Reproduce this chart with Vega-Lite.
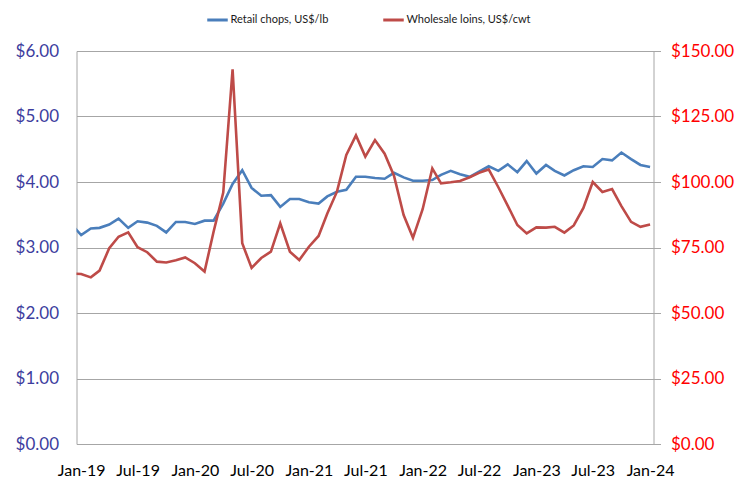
{
  "$schema": "https://vega.github.io/schema/vega-lite/v6.json",
  "width": 577,
  "height": 393,
  "autosize": {"type": "none"},
  "padding": {"left": 76.5, "top": 51, "right": 98.5, "bottom": 36},
  "background": "white",
  "config": {
    "view": {"stroke": null},
    "font": "Lato"
  },
  "data": {
    "values": [
      {"date": "2018-12-01", "retail": 3.35, "wholesale": 65.0},
      {"date": "2019-01-01", "retail": 3.19, "wholesale": 64.9},
      {"date": "2019-02-01", "retail": 3.29, "wholesale": 63.6},
      {"date": "2019-03-01", "retail": 3.30, "wholesale": 66.2},
      {"date": "2019-04-01", "retail": 3.35, "wholesale": 74.7},
      {"date": "2019-05-01", "retail": 3.44, "wholesale": 79.1},
      {"date": "2019-06-01", "retail": 3.30, "wholesale": 80.8},
      {"date": "2019-07-01", "retail": 3.40, "wholesale": 75.1},
      {"date": "2019-08-01", "retail": 3.38, "wholesale": 73.2},
      {"date": "2019-09-01", "retail": 3.33, "wholesale": 69.6},
      {"date": "2019-10-01", "retail": 3.23, "wholesale": 69.3},
      {"date": "2019-11-01", "retail": 3.39, "wholesale": 70.1},
      {"date": "2019-12-01", "retail": 3.39, "wholesale": 71.2},
      {"date": "2020-01-01", "retail": 3.36, "wholesale": 69.0},
      {"date": "2020-02-01", "retail": 3.41, "wholesale": 65.8},
      {"date": "2020-03-01", "retail": 3.41, "wholesale": 81.0},
      {"date": "2020-04-01", "retail": 3.67, "wholesale": 96.0},
      {"date": "2020-05-01", "retail": 3.97, "wholesale": 143.0},
      {"date": "2020-06-01", "retail": 4.18, "wholesale": 76.6},
      {"date": "2020-07-01", "retail": 3.91, "wholesale": 67.2},
      {"date": "2020-08-01", "retail": 3.79, "wholesale": 71.0},
      {"date": "2020-09-01", "retail": 3.80, "wholesale": 73.4},
      {"date": "2020-10-01", "retail": 3.62, "wholesale": 84.2},
      {"date": "2020-11-01", "retail": 3.74, "wholesale": 73.4},
      {"date": "2020-12-01", "retail": 3.74, "wholesale": 70.2},
      {"date": "2021-01-01", "retail": 3.69, "wholesale": 75.3},
      {"date": "2021-02-01", "retail": 3.67, "wholesale": 79.4},
      {"date": "2021-03-01", "retail": 3.78, "wholesale": 88.0},
      {"date": "2021-04-01", "retail": 3.85, "wholesale": 96.3},
      {"date": "2021-05-01", "retail": 3.88, "wholesale": 110.3},
      {"date": "2021-06-01", "retail": 4.08, "wholesale": 117.8},
      {"date": "2021-07-01", "retail": 4.08, "wholesale": 109.7},
      {"date": "2021-08-01", "retail": 4.06, "wholesale": 116.0},
      {"date": "2021-09-01", "retail": 4.05, "wholesale": 110.8},
      {"date": "2021-10-01", "retail": 4.14, "wholesale": 102.4},
      {"date": "2021-11-01", "retail": 4.07, "wholesale": 87.4},
      {"date": "2021-12-01", "retail": 4.02, "wholesale": 78.7},
      {"date": "2022-01-01", "retail": 4.02, "wholesale": 89.6},
      {"date": "2022-02-01", "retail": 4.03, "wholesale": 105.2},
      {"date": "2022-03-01", "retail": 4.11, "wholesale": 99.5},
      {"date": "2022-04-01", "retail": 4.17, "wholesale": 99.9},
      {"date": "2022-05-01", "retail": 4.12, "wholesale": 100.4},
      {"date": "2022-06-01", "retail": 4.08, "wholesale": 101.8},
      {"date": "2022-07-01", "retail": 4.16, "wholesale": 103.5},
      {"date": "2022-08-01", "retail": 4.24, "wholesale": 104.8},
      {"date": "2022-09-01", "retail": 4.17, "wholesale": 98.0},
      {"date": "2022-10-01", "retail": 4.27, "wholesale": 91.0},
      {"date": "2022-11-01", "retail": 4.15, "wholesale": 83.6},
      {"date": "2022-12-01", "retail": 4.32, "wholesale": 80.4},
      {"date": "2023-01-01", "retail": 4.13, "wholesale": 82.7},
      {"date": "2023-02-01", "retail": 4.26, "wholesale": 82.6},
      {"date": "2023-03-01", "retail": 4.17, "wholesale": 82.9},
      {"date": "2023-04-01", "retail": 4.10, "wholesale": 80.7},
      {"date": "2023-05-01", "retail": 4.18, "wholesale": 83.4},
      {"date": "2023-06-01", "retail": 4.24, "wholesale": 90.1},
      {"date": "2023-07-01", "retail": 4.23, "wholesale": 100.0},
      {"date": "2023-08-01", "retail": 4.35, "wholesale": 96.2},
      {"date": "2023-09-01", "retail": 4.33, "wholesale": 97.3},
      {"date": "2023-10-01", "retail": 4.45, "wholesale": 90.8},
      {"date": "2023-11-01", "retail": 4.35, "wholesale": 84.8},
      {"date": "2023-12-01", "retail": 4.26, "wholesale": 82.9},
      {"date": "2024-01-01", "retail": 4.23, "wholesale": 83.8}
    ]
  },
  "encoding": {
    "x": {
      "field": "date",
      "type": "temporal",
      "scale": {
        "type": "utc",
        "domain": [
          {"year": 2018, "month": 12, "date": 17, "utc": true},
          {"year": 2024, "month": 1, "date": 12, "utc": true}
        ]
      },
      "axis": {
        "title": null,
        "grid": false,
        "ticks": false,
        "tickCount": {"interval": "month", "step": 6},
        "labelExpr": "utcFormat(datum.value, '%b-%y')",
        "labelFont": "Lato",
        "labelFontSize": 16,
        "labelColor": "#000000",
        "labelPadding": 18,
        "labelFlush": false,
        "labelOverlap": false,
        "domainColor": "#a6a6a6",
        "domainWidth": 1
      }
    }
  },
  "layer": [
    {
      "mark": {"type": "line", "strokeWidth": 2.6, "clip": true, "interpolate": "linear"},
      "encoding": {
        "y": {
          "field": "retail",
          "type": "quantitative",
          "scale": {"domain": [0, 6], "nice": false, "zero": true},
          "axis": {
            "title": null,
            "orient": "left",
            "values": [0, 1, 2, 3, 4, 5, 6],
            "format": "$.2f",
            "labelFont": "Lato",
            "labelFontSize": 17,
            "labelColor": "#3d3d9e",
            "labelPadding": 18,
            "ticks": false,
            "grid": true,
            "gridColor": "#a6a6a6",
            "gridWidth": 1,
            "domainColor": "#a6a6a6",
            "domainWidth": 1
          }
        },
        "color": {
          "datum": "Retail chops, US$/lb",
          "type": "nominal",
          "scale": {
            "domain": ["Retail chops, US$/lb", "Wholesale loins, US$/cwt"],
            "range": ["#4a7ebb", "#be4b48"]
          },
          "legend": {
            "title": null,
            "orient": "none",
            "direction": "horizontal",
            "legendX": 129,
            "legendY": -43,
            "symbolType": "stroke",
            "symbolSize": 420,
            "symbolStrokeWidth": 3,
            "labelFont": "Lato",
            "labelFontSize": 11,
            "labelColor": "#1a1a1a",
            "labelOffset": 1,
            "columnPadding": 48
          }
        }
      }
    },
    {
      "mark": {"type": "line", "strokeWidth": 2.6, "clip": true, "interpolate": "linear"},
      "encoding": {
        "y": {
          "field": "wholesale",
          "type": "quantitative",
          "scale": {"domain": [0, 150], "nice": false, "zero": true},
          "axis": {
            "title": null,
            "orient": "right",
            "values": [0, 25, 50, 75, 100, 125, 150],
            "format": "$.2f",
            "labelFont": "Lato",
            "labelFontSize": 17,
            "labelColor": "#ff0000",
            "labelPadding": 10,
            "ticks": true,
            "tickSize": 7,
            "tickColor": "#a6a6a6",
            "grid": false,
            "domainColor": "#a6a6a6",
            "domainWidth": 1
          }
        },
        "color": {"datum": "Wholesale loins, US$/cwt", "type": "nominal"}
      }
    }
  ],
  "resolve": {"scale": {"y": "independent"}}
}
